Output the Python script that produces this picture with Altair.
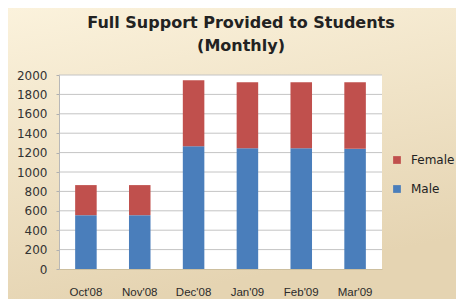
import altair as alt
import pandas as pd

months = ["Oct'08", "Nov'08", "Dec'08", "Jan'09", "Feb'09", "Mar'09"]
male = [555, 555, 1265, 1245, 1245, 1240]
female = [310, 310, 680, 680, 680, 685]
series = ["Female", "Male"]
colors = ["#C0504D", "#4A7EBB"]
grid_values = list(range(0, 2001, 200))
title_lines = ["Full Support Provided to Students", "(Monthly)"]

rows = []
for m, ma, fe in zip(months, male, female):
    rows.append({"month": m, "gender": "Male", "value": ma, "ord": 0})
    rows.append({"month": m, "gender": "Female", "value": fe, "ord": 1})
df = pd.DataFrame(rows)

W, H = 323, 194
PL, PT, PR, PB = 51, 67, 74, 30
FONT = "Liberation Sans"
WIDE = "DejaVu Sans"

one = pd.DataFrame({"a": [0]})

bg = alt.Chart(one).mark_rect(
    color=alt.Gradient(
        gradient="linear",
        stops=[alt.GradientStop(color="#FBF2DC", offset=0),
               alt.GradientStop(color="#E5D4B2", offset=1)],
        x1=0, x2=0.3, y1=0, y2=1,
    )
).encode(
    x=alt.value(-PL), x2=alt.value(W + PR),
    y=alt.value(-PT), y2=alt.value(H + PB),
)

plotbg = alt.Chart(one).mark_rect(color="white").encode(
    x=alt.value(0), x2=alt.value(W), y=alt.value(0), y2=alt.value(H)
)

title = alt.Chart(one).mark_text(
    text=title_lines, fontSize=16, fontWeight="bold", font=WIDE,
    color="#222222", lineHeight=23, align="center", baseline="top",
).encode(x=alt.value(182), y=alt.value(-60))

yscale = alt.Scale(domain=[0, 2000])
yaxis = alt.Axis(values=grid_values, grid=False, tickSize=3, format="d",
                 tickColor="#B0B0B0", domainColor="#B8B8B8",
                 labelPadding=9, labelFontSize=12,
                 labelColor="#333333", labelFont=WIDE, zindex=1)

grid = alt.Chart(pd.DataFrame({"v": grid_values[1:]})).mark_rule(
    color="#C4C4C4", strokeWidth=1
).encode(y=alt.Y("v:Q", scale=yscale, axis=yaxis, title=None))

bars = alt.Chart(df).mark_bar().encode(
    x=alt.X("month:N", sort=months, title=None,
            scale=alt.Scale(paddingInner=0.6, paddingOuter=0.3),
            axis=alt.Axis(labelAngle=0, ticks=False, labelPadding=17,
                          domainColor="#CDBF9E", labelFontSize=11.5,
                          labelColor="#2A2A2A", labelFont=FONT, zindex=1)),
    y=alt.Y("value:Q", stack="zero", scale=yscale, title=None, axis=yaxis),
    color=alt.Color("gender:N", scale=alt.Scale(domain=series, range=colors),
                    legend=alt.Legend(title=None, orient="none", legendX=332,
                                      legendY=79, symbolType="square",
                                      symbolSize=60, symbolStrokeWidth=0,
                                      labelFontSize=12, labelFont=WIDE,
                                      labelColor="#222222", rowPadding=17,
                                      labelOffset=8)),
    order=alt.Order("ord:Q"),
)

chart = alt.layer(bg, plotbg, title, grid, bars).properties(
    width=W, height=H,
    autosize=alt.AutoSizeParams(type="none"),
    padding={"left": PL, "top": PT, "right": PR, "bottom": PB},
).configure_view(stroke=None, fill=None).configure(background="#FFE9A8")

chart.save("out.html", embed_options={"renderer": "svg", "actions": False})
